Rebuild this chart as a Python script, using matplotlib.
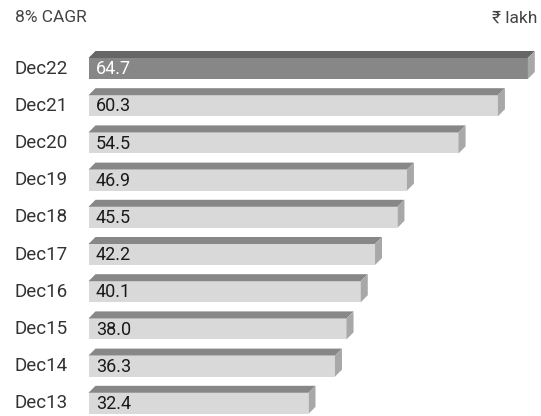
import matplotlib
matplotlib.use("Agg")
import matplotlib.pyplot as plt
from matplotlib.patches import Polygon

plt.rcParams['font.family'] = ['Roboto', 'DejaVu Sans']

years = ['Dec22', 'Dec21', 'Dec20', 'Dec19', 'Dec18', 'Dec17', 'Dec16', 'Dec15', 'Dec14', 'Dec13']
values = [64.7, 60.3, 54.5, 46.9, 45.5, 42.2, 40.1, 38.0, 36.3, 32.4]

W, H = 541, 416
fig = plt.figure(figsize=(W / 100, H / 100), dpi=100)
ax = fig.add_axes([0, 0, 1, 1])
ax.axis('off')

# pixel layout of the bars
x0, scale = 88.5, 6.79      # px of zero, px per unit
y0, pitch = 68.5, 37.2      # px of first bar centre, px between bars
ax.set_xlim(-x0 / scale, (W - x0) / scale)
ax.set_ylim((H - y0) / pitch, -y0 / pitch)

h = 21 / pitch
dx = 7 / scale
dy = 7 / pitch

for i, (lab, v) in enumerate(zip(years, values)):
    first = i == 0
    front = '#878787' if first else '#d9d9d9'
    top = '#666666' if first else '#878787'
    side = '#a8a8a8'
    ax.barh(i, v, height=h, color=front, left=0)
    t = i - h / 2
    b = i + h / 2
    ax.add_patch(Polygon([(0, t), (dx, t - dy), (v + dx, t - dy), (v, t)],
                         closed=True, color=top, lw=0))
    ax.add_patch(Polygon([(v, t), (v + dx, t - dy), (v + dx, b - dy), (v, b)],
                         closed=True, color=side, lw=0))
    ax.text(1.1, i + 0.02, f'{v:.1f}', va='center', ha='left', fontsize=13,
            color='white' if first else '#1a1a1a')
    ax.text(15 / W, 1 - (y0 + pitch * i) / H, lab, transform=ax.transAxes,
            va='center', ha='left', fontsize=13.5, color='#333333')

ax.text(15 / W, 1 - 18 / H, '8% CAGR', transform=ax.transAxes,
        va='center', ha='left', fontsize=12.5, color='#444444')
ax.text(537 / W, 1 - 18 / H, '₹ lakh', transform=ax.transAxes,
        va='center', ha='right', fontsize=12.5, color='#444444')

fig.savefig('out.png', dpi=100)
